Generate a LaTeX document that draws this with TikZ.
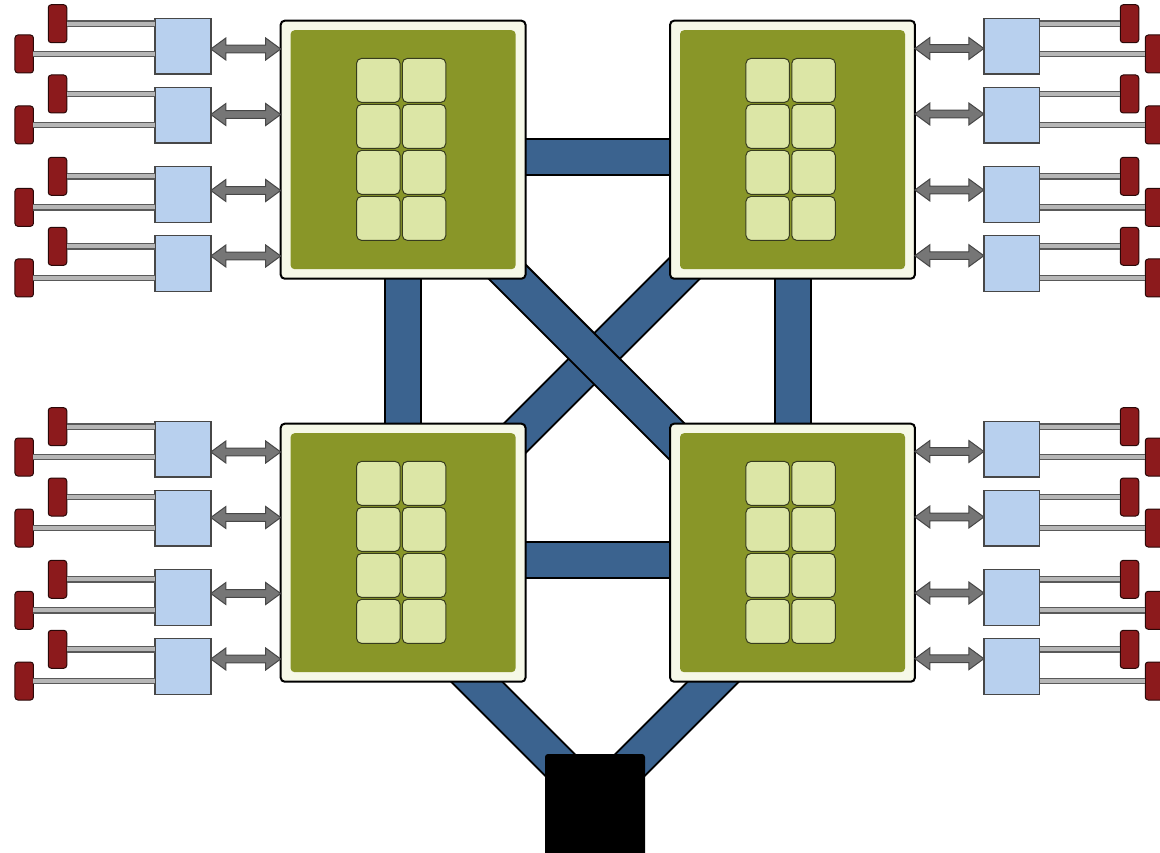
\documentclass[tikz,border=0pt]{standalone}
\usetikzlibrary{calc}
\definecolor{mcblue}{RGB}{184,208,238}
\definecolor{dimmred}{RGB}{140,26,28}
\definecolor{arrgray}{RGB}{118,118,118}
\definecolor{cream}{RGB}{246,248,232}
\definecolor{olive}{RGB}{137,150,40}
\definecolor{corefill}{RGB}{220,230,166}
\definecolor{coreline}{RGB}{55,60,30}
\definecolor{bandblue}{RGB}{59,99,143}
\definecolor{wiregray}{RGB}{182,182,182}
\pgfdeclarelayer{bg}
\pgfsetlayers{bg,main}
\tikzset{
 mc/.style={draw=black!72, line width=1.4pt, fill=mcblue, minimum width=55.7pt, minimum height=55.7pt, inner sep=0pt, outer sep=0pt},
 dimm/.style={draw=black!70!dimmred, line width=1pt, fill=dimmred, rounded corners=3pt, minimum width=18.5pt, minimum height=38pt, inner sep=0pt, outer sep=0pt},
 wire/.style={draw=black!65, line width=1.3pt, double=wiregray, double distance=4pt},
 arrowst/.style={draw=black!72, line width=1pt, fill=arrgray, line join=miter},
 cpu/.style={draw=black, line width=2pt, fill=cream, rounded corners=4pt, minimum width=244.8pt, minimum height=258pt, inner sep=0pt, outer sep=0pt},
 die/.style={fill=olive, rounded corners=4pt, minimum width=225pt, minimum height=239pt, inner sep=0pt},
 core/.style={draw=coreline, line width=1pt, fill=corefill, rounded corners=5pt, minimum width=43.5pt, minimum height=44pt, inner sep=0pt},
 band/.style={draw=black, line width=2pt, double=bandblue, double distance=34pt},
 hub/.style={fill=black, rounded corners=3pt, minimum width=100pt, minimum height=102pt, inner sep=0pt},
}
\newcommand\dblarr[2]{\draw[arrowst] let \p1=(#1), \p2=(#2) in (\x1,\y1) -- (\x1+15pt,\y1+11pt) -- (\x1+15pt,\y1+3.8pt) -- (\x2-15pt,\y1+3.8pt) -- (\x2-15pt,\y1+11pt) -- (\x2,\y1) -- (\x2-15pt,\y1-11pt) -- (\x2-15pt,\y1-3.8pt) -- (\x1+15pt,\y1-3.8pt) -- (\x1+15pt,\y1-11pt) -- cycle;}
\begin{document}
\begin{tikzpicture}[x=1pt,y=-1pt]
\useasboundingbox (0,0) rectangle (1160,853);
% CPUs
\foreach \n/\px/\py in {A/403.1/149.7, B/792.5/149.7, C/403.1/552.7, D/792.5/552.7} {
  \node[cpu] (cpu\n) at (\px,\py) {};
  \node[die] (die\n) at (\px,\py) {};
  \foreach \c/\cx in {1/-24.8,2/21} {
    \foreach \r/\cy in {1/-69.3,2/-23.3,3/22.7,4/68.7} {
      \node[core] (core\n\c\r) at ($(cpu\n)+(\cx,\cy)$) {};
    }
  }
}
% hub
\node[hub] (hub) at (595,805) {};
% left memory groups
\foreach \g/\cp/\off in {A/cpuA/0, C/cpuC/403} {
  \foreach \i/\by/\ay/\uy/\ly in {1/46.1/49/23.7/54, 2/115.1/114.5/94/125, 3/194.5/190.5/176.3/207.3, 4/263.5/256/246.3/278} {
    \node[mc] (mc\g\i) at (183,\by+\off) {};
    \node[dimm] (du\g\i) at (57.5,\uy+\off) {};
    \node[dimm] (dl\g\i) at (24.2,\ly+\off) {};
    \draw[wire] (du\g\i.east) -- (du\g\i.east -| mc\g\i.west);
    \draw[wire] (dl\g\i.east) -- (dl\g\i.east -| mc\g\i.west);
    \coordinate (ar\g\i) at (0,\ay+\off);
    \dblarr{mc\g\i.east |- ar\g\i}{\cp.west |- ar\g\i}
  }
}
% right memory groups
\foreach \g/\cp/\off in {B/cpuB/0, D/cpuD/403} {
  \foreach \i/\by/\ay/\uy/\ly in {1/46.1/48.5/23.7/54, 2/115.1/114/94/125, 3/194.5/190/176.3/207.3, 4/263.5/255.7/246.3/278} {
    \node[mc] (mc\g\i) at (1011.7,\by+\off) {};
    \node[dimm] (du\g\i) at (1129.5,\uy+\off) {};
    \node[dimm] (dl\g\i) at (1154.5,\ly+\off) {};
    \draw[wire] (mc\g\i.east |- du\g\i.west) -- (du\g\i.west);
    \draw[wire] (mc\g\i.east |- dl\g\i.west) -- (dl\g\i.west);
    \coordinate (ar\g\i) at (0,\ay+\off);
    \dblarr{\cp.east |- ar\g\i}{mc\g\i.west |- ar\g\i}
  }
}
% interconnect bands
\begin{pgfonlayer}{bg}
\fill[white] (0,0) rectangle (1160,853);
\draw[band] ([yshift=-7pt]cpuA.center) -- ([yshift=-7pt]cpuB.center);
\draw[band] ([yshift=-7pt]cpuC.center) -- ([yshift=-7pt]cpuD.center);
\draw[band] (cpuA.center) -- (cpuC.center);
\draw[band] (cpuB.center) -- (cpuD.center);
\draw[band] ([yshift=-10.8pt]cpuB.center) -- ([yshift=2.8pt]cpuC.center);
\draw[band] ([yshift=-18pt]cpuA.center) -- ([yshift=-4.3pt]cpuD.center);
\draw[band] ([yshift=-55.4pt]cpuC.center) -- ([yshift=5pt]hub.center);
\draw[band] ([yshift=-49.8pt]cpuD.center) -- ([yshift=5pt]hub.center);
\end{pgfonlayer}
\end{tikzpicture}
\end{document}
